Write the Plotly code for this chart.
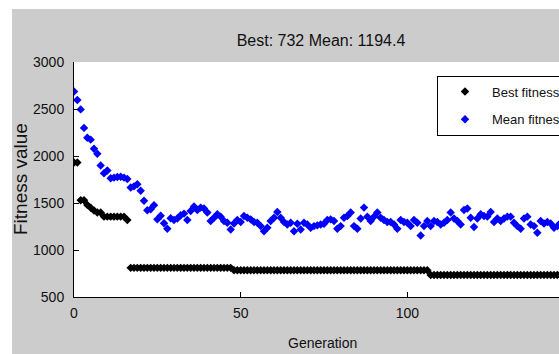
import plotly.graph_objects as go

generations = list(range(0, 147))

best_fitness = (
    [1930, 1930, 1530, 1530, 1480, 1450, 1420, 1400, 1400]
    + [1355] * 7
    + [1320]
    + [810] * 31
    + [785] * 59
    + [735] * 40
)

mean_fitness = [
    2686, 2596, 2496, 2299, 2195, 2174, 2077, 2024, 1898, 1817,
    1845, 1763, 1770, 1777, 1780, 1770, 1755, 1666, 1677, 1700,
    1630, 1523, 1423, 1433, 1476, 1326, 1365, 1285, 1226, 1337,
    1319, 1334, 1369, 1387, 1319, 1415, 1462, 1426, 1451, 1441,
    1398, 1308, 1344, 1380, 1355, 1308, 1290, 1219, 1283, 1319,
    1297, 1362, 1344, 1326, 1297, 1290, 1254, 1200, 1237, 1308,
    1344, 1405, 1344, 1297, 1272, 1290, 1200, 1280, 1219, 1290,
    1272, 1237, 1254, 1262, 1272, 1280, 1319, 1326, 1308, 1226,
    1254, 1344, 1362, 1398, 1254, 1226, 1334, 1451, 1355, 1308,
    1355, 1398, 1344, 1319, 1297, 1297, 1272, 1226, 1319, 1297,
    1290, 1254, 1319, 1290, 1154, 1254, 1308, 1254, 1308, 1297,
    1272, 1290, 1319, 1398, 1334, 1308, 1272, 1426, 1441, 1344,
    1244, 1334, 1380, 1362, 1355, 1405, 1297, 1334, 1308, 1334,
    1355, 1355, 1290, 1254, 1226, 1334, 1355, 1272, 1254, 1183,
    1308, 1283, 1297, 1283, 1237, 1254, 1290,
]

x_ticks = [0, 50, 100, 150]
y_ticks = [500, 1000, 1500, 2000, 2500, 3000]

title_text = "Best: 732 Mean: 1194.4"
x_label = "Generation"
y_label = "Fitness value"

FONT = "Liberation Sans, Arial, sans-serif"
GRAY = "#cccccc"
TXT = "#111111"

# body margin is removed in post_script: figure coords = screen coords
OFF = 0
W, H = 584, 354
L, R, T, B = 74, 10, 62, 57
pw = W - L - R
ph = H - T - B


def px(xs):
    """screen x -> paper x"""
    return (xs - OFF - L) / pw


def py(ys):
    """screen y -> paper y"""
    return (H - B - (ys - OFF)) / ph


fig = go.Figure()
fig.add_trace(go.Scatter(
    x=generations, y=best_fitness, mode="markers", name="Best fitness",
    legendgroup="best",
    marker=dict(symbol="diamond", size=6.5, color="black"),
))
fig.add_trace(go.Scatter(
    x=generations, y=mean_fitness, mode="markers", name="Mean fitness",
    legendgroup="mean",
    marker=dict(symbol="diamond", size=6.5, color="#0000ff"),
))

shapes = [
    dict(type="rect", xref="paper", yref="paper", x0=px(-20), x1=px(700),
         y0=py(9), y1=py(-20), fillcolor="white", line=dict(width=0), layer="below"),
    dict(type="rect", xref="paper", yref="paper", x0=px(-20), x1=px(12),
         y0=py(400), y1=py(-20), fillcolor="white", line=dict(width=0), layer="below"),
]

fig.update_layout(
    width=W, height=H,
    margin=dict(l=L, r=R, t=T, b=B, pad=0),
    paper_bgcolor=GRAY, plot_bgcolor="white",
    font=dict(family=FONT, size=13, color=TXT),
    title=dict(text=title_text, x=(321 - OFF) / W, xanchor="center",
               y=1 - (40 - OFF) / H, yanchor="middle",
               font=dict(family=FONT, size=16, color=TXT)),
    showlegend=True,
    legend=dict(x=px(437), y=py(75.5), xanchor="left", yanchor="top",
                bgcolor="white", bordercolor="black", borderwidth=1,
                font=dict(family=FONT, size=13, color=TXT),
                itemwidth=44, tracegroupgap=8),
    shapes=shapes,
    annotations=[
        dict(text=x_label, xref="paper", yref="paper", x=px(322), y=py(343),
             xanchor="center", yanchor="middle", showarrow=False,
             font=dict(family=FONT, size=14, color=TXT)),
        dict(text=y_label, xref="paper", yref="paper", x=px(20), y=py(179),
             xanchor="center", yanchor="middle", showarrow=False, textangle=-90,
             font=dict(family=FONT, size=19, color=TXT)),
    ],
)

fig.update_xaxes(
    range=[0, 150],
    tickvals=x_ticks, ticktext=[str(v) for v in x_ticks],
    ticks="inside", ticklen=5, tickcolor="black",
    showline=True, linecolor="black", linewidth=1,
    showgrid=False, zeroline=False, mirror=False,
    ticklabelstandoff=3,
    tickfont=dict(family=FONT, size=14, color=TXT),
)
fig.update_yaxes(
    range=[500, 3000],
    tickvals=y_ticks, ticktext=[str(v) for v in y_ticks],
    ticks="inside", ticklen=5, tickcolor="black",
    showline=True, linecolor="black", linewidth=1,
    showgrid=False, zeroline=False, mirror=False,
    ticklabelstandoff=6,
    tickfont=dict(family=FONT, size=14, color=TXT),
)

fig.write_html(
    "out.html",
    config={"displayModeBar": False},
    post_script=(
        "document.body.style.margin='0';"
        "document.documentElement.style.overflow='hidden';"
        "document.body.style.overflow='hidden';"
    ),
)
